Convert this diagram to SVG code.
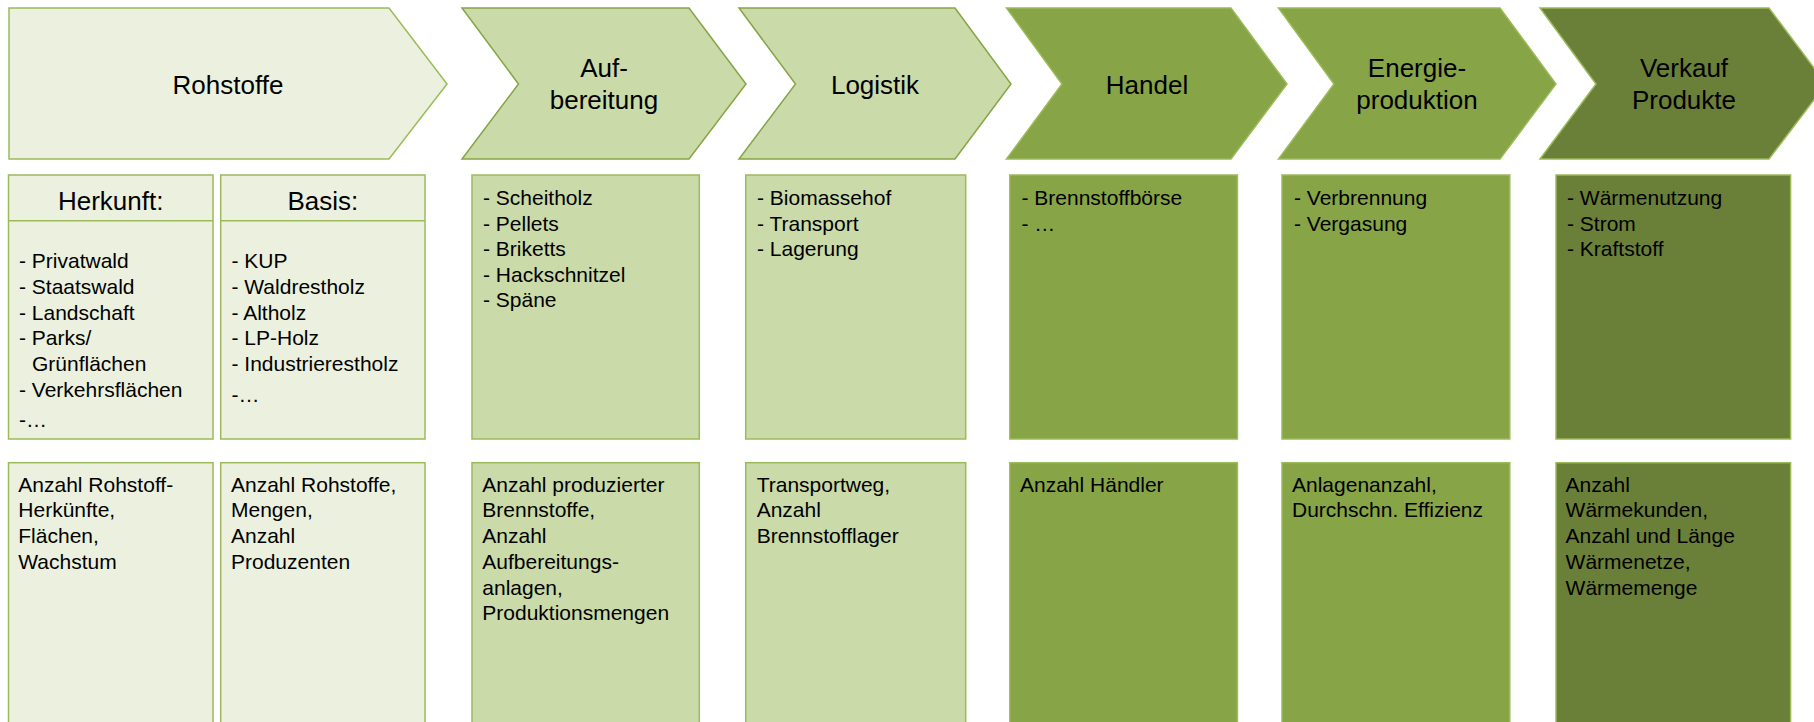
<svg xmlns="http://www.w3.org/2000/svg" width="1814" height="722" viewBox="0 0 1814 722">
<style>
text{font-family:"Liberation Sans",Arial,sans-serif;fill:#000}
.t{font-size:26px;text-anchor:middle}
.h{font-size:26px;text-anchor:middle}
.l{font-size:21px}
.c1{fill:#EBF1DE;stroke:#9BBB59;stroke-width:1.5}
.c2{fill:#CADAA9;stroke:#86A544;stroke-width:1.5}
.c3{fill:#87A447;stroke:#9BBB59;stroke-width:1.5}
.c4{fill:#6A7F37;stroke:#9BBB59;stroke-width:1.5}
.b2{fill:#CADAA9;stroke:#9BBB59;stroke-width:1.5}
</style>
<g id="connectors"></g>
<g id="chevron-rohstoffe">
<polygon class="c1" points="9,8 389,8 447,84 389,159 9,159"/>
<text class="t" x="228" y="93.5">Rohstoffe</text>
</g>
<g id="chevron-aufbereitung">
<polygon class="c2" points="462,8 689,8 746,84 689,159 462,159 518.5,84"/>
<text class="t" x="604" y="77">Auf-</text>
<text class="t" x="604" y="108.5">bereitung</text>
</g>
<g id="chevron-logistik">
<polygon class="c2" points="739,8 955,8 1011,84 955,159 739,159 795.5,84"/>
<text class="t" x="875" y="93.5">Logistik</text>
</g>
<g id="chevron-handel">
<polygon class="c3" points="1006.5,8 1231,8 1287,84 1231,159 1006.5,159 1062,84"/>
<text class="t" x="1147" y="93.5">Handel</text>
</g>
<g id="chevron-energie">
<polygon class="c3" points="1278.5,8 1500,8 1556,84 1500,159 1278.5,159 1334,84"/>
<text class="t" x="1417" y="77">Energie-</text>
<text class="t" x="1417" y="108.5">produktion</text>
</g>
<g id="chevron-verkauf">
<polygon class="c4" points="1540,8 1769,8 1826,84 1769,159 1540,159 1596,84"/>
<text class="t" x="1684" y="77">Verkauf</text>
<text class="t" x="1684" y="108.5">Produkte</text>
</g>

<g id="box-herkunft">
<rect class="c1" x="8.5" y="175" width="204.5" height="264"/>
<line x1="8.5" y1="220.7" x2="213" y2="220.7" stroke="#9BBB59" stroke-width="1.5"/>
<text class="h" x="110.7" y="210">Herkunft:</text>
<text class="l" x="19" y="268.3">- Privatwald</text>
<text class="l" x="19" y="294">- Staatswald</text>
<text class="l" x="19" y="319.7">- Landschaft</text>
<text class="l" x="19" y="345.4">- Parks/</text>
<text class="l" x="32" y="371">Grünflächen</text>
<text class="l" x="19" y="396.7">- Verkehrsflächen</text>
<text class="l" x="19" y="426.7">-…</text>
</g>
<g id="box-basis">
<rect class="c1" x="220.7" y="175" width="204.3" height="264"/>
<line x1="220.7" y1="220.7" x2="425" y2="220.7" stroke="#9BBB59" stroke-width="1.5"/>
<text class="h" x="322.8" y="210">Basis:</text>
<text class="l" x="231.5" y="268.3">- KUP</text>
<text class="l" x="231.5" y="294">- Waldrestholz</text>
<text class="l" x="231.5" y="319.7">- Altholz</text>
<text class="l" x="231.5" y="345.4">- LP-Holz</text>
<text class="l" x="231.5" y="371">- Industrierestholz</text>
<text class="l" x="231.5" y="401.7">-…</text>
</g>
<g id="box-aufbereitung">
<rect class="b2" x="472" y="175" width="227.3" height="264"/>
<text class="l" x="483" y="205">- Scheitholz</text>
<text class="l" x="483" y="230.6">- Pellets</text>
<text class="l" x="483" y="256.2">- Briketts</text>
<text class="l" x="483" y="281.8">- Hackschnitzel</text>
<text class="l" x="483" y="307.4">- Späne</text>
</g>
<g id="box-logistik">
<rect class="b2" x="745.7" y="175" width="220" height="264"/>
<text class="l" x="757" y="205">- Biomassehof</text>
<text class="l" x="757" y="230.6">- Transport</text>
<text class="l" x="757" y="256.2">- Lagerung</text>
</g>
<g id="box-handel">
<rect class="c3" x="1009.8" y="175" width="227.6" height="264"/>
<text class="l" x="1021.5" y="205">- Brennstoffbörse</text>
<text class="l" x="1021.5" y="230.6">- …</text>
</g>
<g id="box-energie">
<rect class="c3" x="1282" y="175" width="227.8" height="264"/>
<text class="l" x="1294" y="205">- Verbrennung</text>
<text class="l" x="1294" y="230.6">- Vergasung</text>
</g>
<g id="box-verkauf">
<rect class="c4" x="1556" y="175" width="234.6" height="264"/>
<text class="l" x="1567" y="205">- Wärmenutzung</text>
<text class="l" x="1567" y="230.6">- Strom</text>
<text class="l" x="1567" y="256.2">- Kraftstoff</text>
</g>

<g id="kpi-herkunft">
<rect class="c1" x="8.5" y="462.7" width="204.5" height="280"/>
<text class="l" x="18.3" y="491.7">Anzahl Rohstoff-</text>
<text class="l" x="18.3" y="517.4">Herkünfte,</text>
<text class="l" x="18.3" y="543.1">Flächen,</text>
<text class="l" x="18.3" y="568.8">Wachstum</text>
</g>
<g id="kpi-basis">
<rect class="c1" x="220.7" y="462.7" width="204.3" height="280"/>
<text class="l" x="231" y="491.7">Anzahl Rohstoffe,</text>
<text class="l" x="231" y="517.4">Mengen,</text>
<text class="l" x="231" y="543.1">Anzahl</text>
<text class="l" x="231" y="568.8">Produzenten</text>
</g>
<g id="kpi-aufbereitung">
<rect class="b2" x="472" y="462.7" width="227.3" height="280"/>
<text class="l" x="482.3" y="491.7">Anzahl produzierter</text>
<text class="l" x="482.3" y="517.4">Brennstoffe,</text>
<text class="l" x="482.3" y="543.1">Anzahl</text>
<text class="l" x="482.3" y="568.8">Aufbereitungs-</text>
<text class="l" x="482.3" y="594.5">anlagen,</text>
<text class="l" x="482.3" y="620.2">Produktionsmengen</text>
</g>
<g id="kpi-logistik">
<rect class="b2" x="745.7" y="462.7" width="220" height="280"/>
<text class="l" x="756.7" y="491.7">Transportweg,</text>
<text class="l" x="756.7" y="517.4">Anzahl</text>
<text class="l" x="756.7" y="543.1">Brennstofflager</text>
</g>
<g id="kpi-handel">
<rect class="c3" x="1009.8" y="462.7" width="227.6" height="280"/>
<text class="l" x="1020" y="491.7">Anzahl Händler</text>
</g>
<g id="kpi-energie">
<rect class="c3" x="1282" y="462.7" width="227.8" height="280"/>
<text class="l" x="1292" y="491.7">Anlagenanzahl,</text>
<text class="l" x="1292" y="517.4">Durchschn. Effizienz</text>
</g>
<g id="kpi-verkauf">
<rect class="c4" x="1556" y="462.7" width="234.6" height="280"/>
<text class="l" x="1565.6" y="491.7">Anzahl</text>
<text class="l" x="1565.6" y="517.4">Wärmekunden,</text>
<text class="l" x="1565.6" y="543.1">Anzahl und Länge</text>
<text class="l" x="1565.6" y="568.8">Wärmenetze,</text>
<text class="l" x="1565.6" y="594.5">Wärmemenge</text>
</g>
</svg>
